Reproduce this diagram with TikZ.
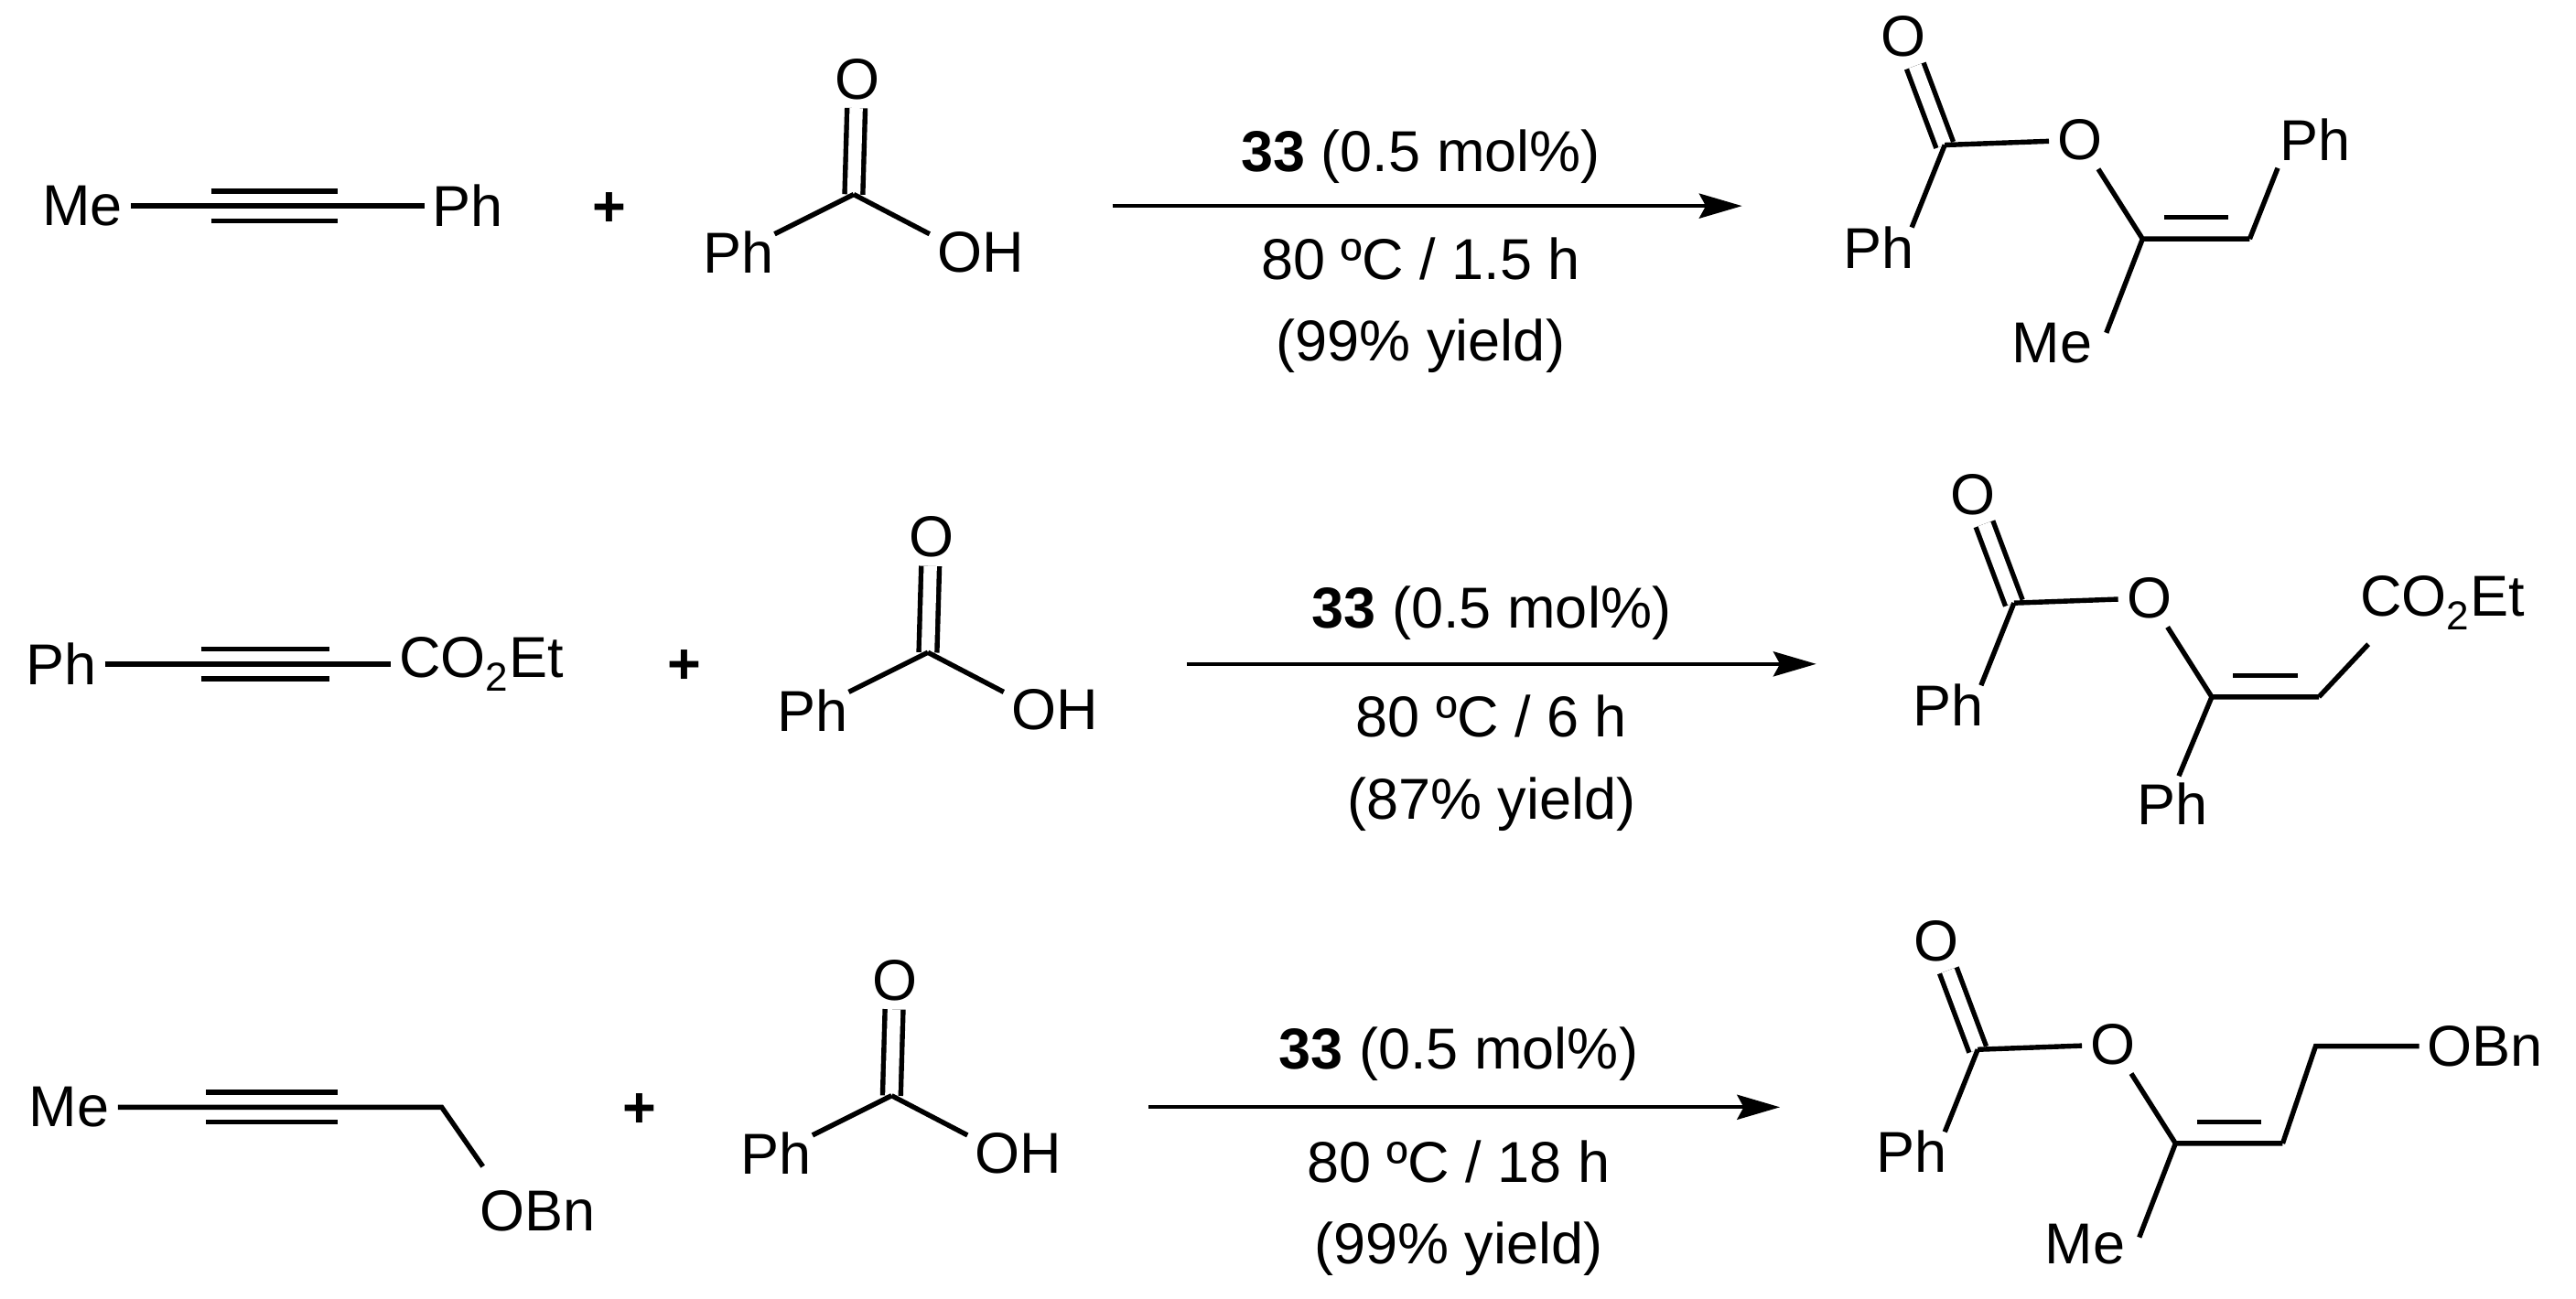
\documentclass[tikz,border=0pt]{standalone}
\usepackage{fontspec}
\setmainfont{Liberation Sans}
\usetikzlibrary{arrows.meta,calc}
\newcommand\fsz{\fontsize{35}{40}\selectfont}
\tikzset{
  lbl/.style={inner sep=5pt,font=\fsz},
  bond/.style={line width=3pt},
  dbl/.style={line width=3pt,double,double distance=8pt},
  rxn/.style={line width=2.4pt,-{Stealth[length=26pt,width=15pt,inset=4pt]}},
}
\newcommand\acid[3]{% suffix, cx, cy
  \coordinate (ac#1) at (#2,#3);
  \node[lbl] (aO#1) at ($(ac#1)+(2,-70)$) {O};
  \node[lbl] (aPh#1) at ($(ac#1)+(-70,35)$) {Ph};
  \node[lbl] (aOH#1) at ($(ac#1)+(77,35)$) {OH};
  \draw[dbl] (ac#1) -- (aO#1);
  \draw[bond] (ac#1) -- ($(ac#1)+(-48,24)$);
  \draw[bond] (ac#1) -- ($(ac#1)+(46,24)$);
}
\newcommand\ester[3]{% suffix, cx, cy
  \coordinate (ec#1) at (#2,#3);
  \node[lbl] (eO#1) at ($(ec#1)+(-25,-66)$) {O};
  \node[lbl] (ePh#1) at ($(ec#1)+(-40,62)$) {Ph};
  \node[lbl] (eOe#1) at ($(ec#1)+(82,-3)$) {O};
  \coordinate (c2#1) at ($(ec#1)+(120,57)$);
  \coordinate (c3#1) at ($(ec#1)+(185,57)$);
  \draw[dbl] (ec#1) -- ($(ec#1)+(-18,-48)$);
  \draw[bond] (ec#1) -- ($(ec#1)+(-20,50)$);
  \draw[bond] (ec#1) -- (eOe#1);
  \draw[bond] (eOe#1) -- (c2#1) -- (c3#1);
  \draw[bond] ($(c2#1)+(13,-13)$) -- ($(c3#1)+(-13,-13)$);
}
\begin{document}
\begin{tikzpicture}[x=1pt,y=-1pt]
\useasboundingbox (0,0) rectangle (1563,788);
% ---------- row 1 ----------
\node[lbl] (me1) at (50,125) {Me};
\node[lbl] (ph1) at (284,125) {Ph};
\draw[bond] (me1) -- (ph1);
\draw[bond] (128,116) -- (205,116) (128,134) -- (205,134);
\node[lbl] (plus1) at (370,127) {\textbf{+}};
\acid{1}{518}{118}
\node[lbl] (ca1) at (862,95) {\textbf{33} (0.5 mol\%)};
\node[lbl] (cb1) at (862,157) {80 ºC / 1.5 h};
\node[lbl] (cc1) at (862,210) {(99\% yield)};
\coordinate (as1) at (675,125); \coordinate (ae1) at (1057,125);
\draw[rxn] (as1) -- (ae1);
\ester{1}{1180}{88}
\node[lbl] (sub1) at (1405,85) {Ph};
\node[lbl] (mep1) at (1245,208) {Me};
\draw[bond] (c31) -- ($(c31)+(17,-43)$);
\draw[bond] (c21) -- ($(c21)+(-22,57)$);
% ---------- row 2 ----------
\node[lbl] (ph2) at (37,403) {Ph};
\node[lbl] (co2) at (292,403) {CO\textsubscript{2}Et};
\draw[bond] (ph2) -- (co2);
\draw[bond] (122,394) -- (200,394) (122,412) -- (200,412);
\node[lbl] (plus2) at (415,405) {\textbf{+}};
\acid{2}{563}{396}
\node[lbl] (ca2) at (905,372) {\textbf{33} (0.5 mol\%)};
\node[lbl] (cb2) at (905,435) {80 ºC / 6 h};
\node[lbl] (cc2) at (905,488) {(87\% yield)};
\coordinate (as2) at (720,403); \coordinate (ae2) at (1102,403);
\draw[rxn] (as2) -- (ae2);
\ester{2}{1222}{366}
\node[lbl] (sub2) at (1482,366) {CO\textsubscript{2}Et};
\node[lbl] (php2) at (1318,488) {Ph};
\draw[bond] (c32) -- ($(c32)+(30,-32)$);
\draw[bond] (c22) -- ($(c22)+(-20,48)$);
% ---------- row 3 ----------
\node[lbl] (me3) at (42,672) {Me};
\coordinate (ch3) at (268,672);
\node[lbl] (obn3) at (326,735) {OBn};
\draw[bond] (me3) -- (ch3) -- ($(ch3)+(25,36)$);
\draw[bond] (125,663) -- (205,663) (125,681) -- (205,681);
\node[lbl] (plus3) at (388,674) {\textbf{+}};
\acid{3}{541}{665}
\node[lbl] (ca3) at (885,640) {\textbf{33} (0.5 mol\%)};
\node[lbl] (cb3) at (885,705) {80 ºC / 18 h};
\node[lbl] (cc3) at (885,758) {(99\% yield)};
\coordinate (as3) at (697,672); \coordinate (ae3) at (1080,672);
\draw[rxn] (as3) -- (ae3);
\ester{3}{1200}{637}
\coordinate (ch23) at (1405,635);
\node[lbl] (sub3) at (1508,635) {OBn};
\node[lbl] (mep3) at (1265,755) {Me};
\draw[bond] (c33) -- (ch23) -- (sub3);
\draw[bond] (c23) -- ($(c23)+(-22,57)$);
\end{tikzpicture}
\end{document}
